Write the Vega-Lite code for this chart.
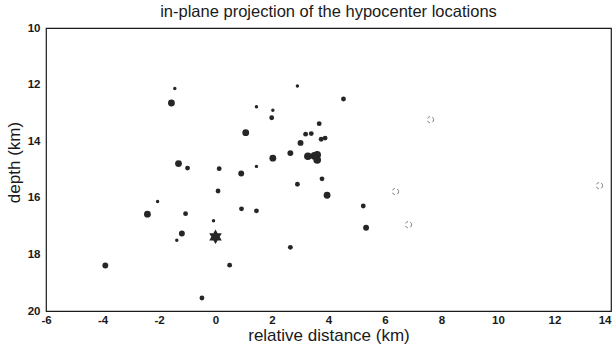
{
  "$schema": "https://vega.github.io/schema/vega-lite/v6.json",
  "autosize": {"type": "none"},
  "width": 565,
  "height": 283,
  "padding": {"left": 46, "top": 28, "right": 5, "bottom": 35},
  "background": "white",
  "title": {"text": "in-plane projection of the hypocenter locations", "font": "Liberation Sans", "fontSize": 16.5, "fontWeight": "normal", "color": "#1a1a1a", "anchor": "middle", "offset": 2},
  "config": {
    "view": {"stroke": "#1a1a1a", "strokeWidth": 1.2},
    "axis": {"domain": false, "grid": false, "ticks": true, "labelFont": "Liberation Sans", "labelFontSize": 11.5, "labelFontWeight": "bold", "labelColor": "#1a1a1a", "titleFont": "Liberation Sans", "titleFontSize": 17, "titleFontWeight": "normal", "titleColor": "#1a1a1a", "tickColor": "#1a1a1a", "tickWidth": 1}
  },
  "datasets": {
    "events": [
      {"x": -1.44, "depth": 12.14, "mag": 1},
      {"x": -1.56, "depth": 12.65, "mag": 2.5},
      {"x": -1.31, "depth": 14.79, "mag": 2.5},
      {"x": -0.99, "depth": 14.95, "mag": 1.5},
      {"x": 0.13, "depth": 14.97, "mag": 1.5},
      {"x": 0.91, "depth": 15.14, "mag": 2},
      {"x": 0.09, "depth": 15.76, "mag": 1.5},
      {"x": -2.05, "depth": 16.13, "mag": 1},
      {"x": -2.41, "depth": 16.58, "mag": 2.5},
      {"x": -1.06, "depth": 16.56, "mag": 1.5},
      {"x": -0.07, "depth": 16.81, "mag": 1},
      {"x": -1.19, "depth": 17.26, "mag": 2},
      {"x": -1.37, "depth": 17.5, "mag": 1},
      {"x": -3.9, "depth": 18.39, "mag": 2},
      {"x": 0.5, "depth": 18.38, "mag": 1.5},
      {"x": -0.48, "depth": 19.54, "mag": 1.5},
      {"x": 0.92, "depth": 16.39, "mag": 1.5},
      {"x": 2.9, "depth": 12.05, "mag": 1},
      {"x": 4.53, "depth": 12.51, "mag": 1.5},
      {"x": 1.45, "depth": 12.78, "mag": 1},
      {"x": 2.03, "depth": 12.91, "mag": 1},
      {"x": 1.99, "depth": 13.17, "mag": 1.5},
      {"x": 1.07, "depth": 13.7, "mag": 2.5},
      {"x": 3.67, "depth": 13.38, "mag": 1.5},
      {"x": 3.19, "depth": 13.75, "mag": 1.5},
      {"x": 3.39, "depth": 13.73, "mag": 1.5},
      {"x": 3.01, "depth": 14.06, "mag": 2},
      {"x": 3.74, "depth": 13.93, "mag": 1.5},
      {"x": 3.88, "depth": 13.89, "mag": 1.5},
      {"x": 2.65, "depth": 14.42, "mag": 2},
      {"x": 2.03, "depth": 14.6, "mag": 2.5},
      {"x": 3.27, "depth": 14.53, "mag": 3},
      {"x": 3.5, "depth": 14.52, "mag": 3},
      {"x": 3.6, "depth": 14.48, "mag": 3},
      {"x": 3.6, "depth": 14.66, "mag": 3},
      {"x": 1.45, "depth": 14.89, "mag": 1},
      {"x": 2.9, "depth": 15.52, "mag": 1.5},
      {"x": 3.77, "depth": 15.33, "mag": 1.5},
      {"x": 3.95, "depth": 15.91, "mag": 2.5},
      {"x": 1.45, "depth": 16.46, "mag": 1.5},
      {"x": 5.23, "depth": 16.29, "mag": 1.5},
      {"x": 5.33, "depth": 17.06, "mag": 2},
      {"x": 2.65, "depth": 17.75, "mag": 1.5}
    ],
    "uncertain": [
      {"x": 7.61, "depth": 13.24},
      {"x": 6.37, "depth": 15.78},
      {"x": 6.83, "depth": 16.95},
      {"x": 13.59, "depth": 15.57}
    ],
    "mainshock": [
      {"x": 0.0, "depth": 17.38}
    ]
  },
  "layer": [
    {
      "data": {"name": "events"},
      "mark": {"type": "point", "shape": "circle", "filled": true, "opacity": 1, "color": "#262626"},
      "encoding": {
        "x": {"field": "x", "type": "quantitative", "scale": {"domain": [-6, 14], "nice": false, "zero": false},
          "axis": {"orient": "bottom", "title": "relative distance (km)", "values": [-6,-5,-4,-3,-2,-1,0,1,2,3,4,5,6,7,8,9,10,11,12,13,14],
            "labelExpr": "datum.value % 2 === 0 ? '' + datum.value : ''",
            "labelAlign": {"condition": {"test": "datum.value === 14", "value": "right"}, "value": "center"},
            "tickSize": 0, "labelPadding": 3, "labelFlush": false,
            "titleY": 29.5, "titleBaseline": "alphabetic",
            "encode": {"ticks": {"update": {"y": {"value": 0}, "y2": {"signal": "datum.value % 2 === 0 ? -6 : -3.5"}}}}}},
        "y": {"field": "depth", "type": "quantitative", "scale": {"domain": [10, 20], "reverse": true, "nice": false, "zero": false},
          "axis": {"orient": "left", "title": "depth (km)", "values": [10,12,14,16,18,20],
            "labelExpr": "'' + datum.value",
            "tickSize": 0, "labelPadding": 6, "titleX": -27, "titleY": 134, "titleBaseline": "alphabetic", "labelFlush": false,
            "encode": {"ticks": {"update": {"x": {"value": 0}, "x2": {"value": 5}}}}}},
        "size": {"field": "mag", "type": "quantitative", "scale": {"domain": [1, 3], "range": [12, 58]}, "legend": null}
      }
    },
    {
      "data": {"name": "uncertain"},
      "mark": {"type": "point", "shape": "circle", "filled": false, "size": 40, "strokeWidth": 1, "color": "#444444", "strokeDash": [3, 2.5]},
      "encoding": {
        "x": {"field": "x", "type": "quantitative",
          "axis": {"orient": "top", "title": null, "labels": false, "values": [-6,-5,-4,-3,-2,-1,0,1,2,3,4,5,6,7,8,9,10,11,12,13,14],
            "tickSize": 0,
            "encode": {"ticks": {"update": {"y": {"value": 0}, "y2": {"signal": "datum.value % 2 === 0 ? 6 : 3.5"}}}}}},
        "y": {"field": "depth", "type": "quantitative",
          "axis": {"orient": "right", "title": null, "labels": false, "values": [10,12,14,16,18,20], "tickSize": 0,
            "encode": {"ticks": {"update": {"x": {"value": 0}, "x2": {"value": -5}}}}}}
      }
    },
    {
      "data": {"name": "mainshock"},
      "mark": {"type": "point", "shape": "M0,-1L0.866,0.5L-0.866,0.5Z M0,1L-0.866,-0.5L0.866,-0.5Z", "filled": true, "size": 210, "opacity": 1, "color": "#262626"},
      "encoding": {
        "x": {"field": "x", "type": "quantitative", "axis": null},
        "y": {"field": "depth", "type": "quantitative", "axis": null}
      }
    }
  ],
  "resolve": {"axis": {"x": "independent", "y": "independent"}}
}
